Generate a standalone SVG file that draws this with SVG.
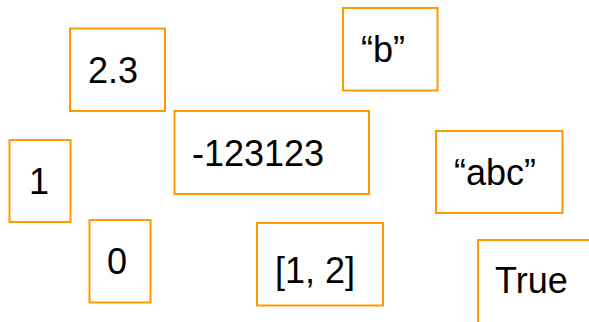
<svg xmlns="http://www.w3.org/2000/svg" width="589" height="322" viewBox="0 0 589 322">
<style>
rect{fill:#fff;stroke:#FF9900;stroke-width:2}
text{font-family:"Liberation Sans",Arial,sans-serif;font-size:36px;fill:#000}
</style>
<rect width="589" height="322" style="stroke:none"/>
<g id="n-2.3"><rect x="70" y="28.5" width="95" height="82.5"/><text x="88" y="82.5">2.3</text></g>
<g id="n-b"><rect x="343" y="8" width="94.5" height="82.5"/><text x="361" y="62">“b”</text></g>
<g id="n-neg"><rect x="174.5" y="111" width="194.5" height="83"/><text x="192" y="165.5">-123123</text></g>
<g id="n-abc"><rect x="436" y="131" width="126.5" height="82"/><text x="454" y="185">“abc”</text></g>
<g id="n-1"><rect x="9.5" y="140" width="61" height="82"/><text x="29" y="194">1</text></g>
<g id="n-0"><rect x="89.5" y="220" width="61" height="82.5"/><text x="107" y="274">0</text></g>
<g id="n-list"><rect x="257" y="223" width="126" height="82.5"/><text x="275" y="282.5">[1, 2]</text></g>
<g id="n-true"><rect x="478" y="240" width="130" height="90"/><text x="495" y="292.5">True</text></g>
<g id="connectors"/>
</svg>
